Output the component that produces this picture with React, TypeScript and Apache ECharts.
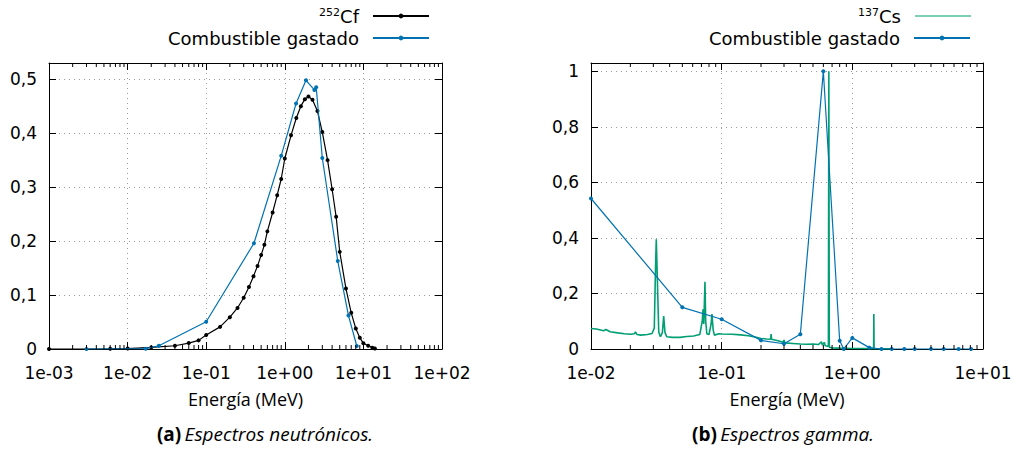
import { useEffect, useRef } from 'react';
import * as echarts from 'echarts';

// ---- Data ----
// (a) Neutron spectra: [energy MeV, normalised value]
const cf252: number[][] = [
  [0.001, 0.0], [0.006, 0.0004], [0.01, 0.0008], [0.02, 0.003], [0.04, 0.006],
  [0.06, 0.011], [0.08, 0.016], [0.1, 0.026], [0.15, 0.041], [0.2, 0.059],
  [0.25, 0.076], [0.3, 0.095], [0.35, 0.115], [0.4, 0.135], [0.45, 0.154],
  [0.5, 0.174], [0.55, 0.193], [0.6, 0.218], [0.7, 0.253], [0.8, 0.285],
  [0.9, 0.315], [1.0, 0.353], [1.2, 0.396], [1.4, 0.428], [1.6, 0.45],
  [1.8, 0.463], [2.0, 0.468], [2.25, 0.462], [2.6, 0.441], [3.0, 0.402],
  [3.5, 0.35], [4.0, 0.296], [4.5, 0.245], [5.0, 0.18], [6.0, 0.112],
  [7.0, 0.067], [8.0, 0.038], [9.0, 0.021], [10, 0.0105], [11.5, 0.006],
  [13, 0.0025], [14, 0.001],
];
const fuelNeutron: number[][] = [
  [0.003, 0.0], [0.017, 0.0006], [0.025, 0.006], [0.1, 0.0506], [0.405, 0.196],
  [0.9, 0.358], [1.39, 0.455], [1.86, 0.498], [2.38, 0.48], [2.51, 0.485],
  [3.0, 0.354], [4.72, 0.163], [6.46, 0.062], [8.24, 0.0056],
];
// (b) Gamma spectra
const cs137: number[][] = [
  [0.01, 0.074], [0.011, 0.072], [0.0125, 0.066], [0.013, 0.07], [0.014, 0.062],
  [0.016, 0.058], [0.018, 0.055], [0.02, 0.053], [0.0215, 0.055], [0.0219, 0.062],
  [0.0225, 0.052], [0.024, 0.05], [0.027, 0.052], [0.0293, 0.056], [0.0305, 0.075],
  [0.0312, 0.3], [0.0316, 0.395], [0.0322, 0.25], [0.033, 0.06], [0.034, 0.044],
  [0.0352, 0.06], [0.036, 0.119], [0.0368, 0.06], [0.038, 0.044], [0.042, 0.042],
  [0.048, 0.042], [0.054, 0.045], [0.061, 0.047], [0.068, 0.052], [0.071, 0.1],
  [0.072, 0.143], [0.073, 0.09], [0.0745, 0.242], [0.0755, 0.1], [0.077, 0.055],
  [0.08, 0.052], [0.083, 0.09], [0.0843, 0.126], [0.086, 0.07], [0.088, 0.05],
  [0.095, 0.055], [0.1, 0.054], [0.12, 0.053], [0.14, 0.051], [0.16, 0.048],
  [0.18, 0.043], [0.2, 0.038], [0.22, 0.036], [0.237, 0.035], [0.239, 0.054],
  [0.241, 0.035], [0.27, 0.03], [0.295, 0.024], [0.3, 0.032], [0.305, 0.022],
  [0.35, 0.02], [0.4, 0.018], [0.45, 0.017], [0.5, 0.018], [0.55, 0.016],
  [0.58, 0.026], [0.59, 0.014], [0.61, 0.024], [0.62, 0.012], [0.65, 0.01],
  [0.656, 0.014], [0.661, 1.0], [0.666, 0.006], [0.7, 0.004], [0.8, 0.003],
  [0.9, 0.0025], [1.0, 0.002], [1.2, 0.002], [1.4, 0.0015], [1.455, 0.002],
  [1.461, 0.126], [1.467, 0.001], [1.7, 0.001], [2.0, 0.0005],
];
const fuelGamma: number[][] = [
  [0.01, 0.542], [0.05, 0.15], [0.1, 0.107], [0.2, 0.031], [0.3, 0.019],
  [0.4, 0.053], [0.6, 1.0], [0.8, 0.03], [0.86, 0.0], [1.0, 0.04],
  [1.35, 0.005], [1.67, 0.0], [2.0, 0.0], [2.5, 0.0], [3.0, 0.0],
  [4.0, 0.0], [5.0, 0.0], [6.5, 0.0], [8.1, 0.0],
];

const seriesNames = ['252Cf', 'Combustible gastado', '137Cs'];
const xTitle = 'Energía (MeV)';
const captionA = ['(a)', 'Espectros neutrónicos.'];
const captionB = ['(b)', 'Espectros gamma.'];

// log-axis minor tick positions (2..9 within each decade)
function minorTicks(fromExp: number, toExp: number): number[][] {
  const out: number[][] = [];
  for (let e = fromExp; e < toExp; e++) {
    for (let m = 2; m <= 9; m++) out.push([m * Math.pow(10, e), 0]);
  }
  return out;
}

const BLUE = '#0072b2';
const GREEN = '#009e73';
const FONT = 'DejaVu Sans';
const CAPFONT = 'Open Sans';

const fmtExp = (v: number) => {
  const e = Math.round(Math.log10(v));
  return '1e' + (e < 0 ? '-' : '+') + String(Math.abs(e)).padStart(2, '0');
};
const fmtDec = (v: number) => String(Math.round(v * 10) / 10).replace('.', ',');

export default function App() {
  const ref = useRef<HTMLDivElement>(null);
  useEffect(() => {
    if (!ref.current) return;
    const chart = echarts.init(ref.current, undefined, { renderer: 'svg' });

    const grids = [
      { left: 49, top: 63, width: 393, height: 286 },
      { left: 591, top: 63, width: 392, height: 286 },
    ];
    const xr = [
      { min: 0.001, max: 100 },
      { min: 0.01, max: 10 },
    ];
    const yr = [
      { min: 0, max: 0.53, interval: 0.1 },
      { min: 0, max: 1.03, interval: 0.2 },
    ];
    const axisLine = { show: true, onZero: false, lineStyle: { color: '#000', width: 1 } };
    const tick = { show: true, inside: true, length: 7, lineStyle: { color: '#000', width: 1 } };
    const split = { show: true, lineStyle: { color: '#9a9a9a', width: 1, type: [1, 4] as any } };

    const xAxis: any[] = [];
    const yAxis: any[] = [];
    [0, 1].forEach((g) => {
      xAxis.push({
        type: 'log', gridIndex: g, position: 'bottom', logBase: 10, ...xr[g],
        axisLine, axisTick: tick, splitLine: split, minorTick: { show: false },
        axisLabel: { formatter: fmtExp, color: '#000', fontFamily: FONT, fontSize: 17, margin: 15,
          showMinLabel: true, showMaxLabel: true },
        name: xTitle, nameLocation: 'middle', nameGap: 41,
        nameTextStyle: { color: '#000', fontFamily: CAPFONT, fontSize: 18 },
      });
      xAxis.push({
        type: 'log', gridIndex: g, position: 'top', logBase: 10, ...xr[g],
        axisLine, axisTick: tick, splitLine: { show: false }, axisLabel: { show: false },
      });
      yAxis.push({
        type: 'value', gridIndex: g, position: 'left', ...yr[g],
        axisLine, axisTick: tick, splitLine: split,
        axisLabel: { formatter: fmtDec, color: '#000', fontFamily: FONT, fontSize: 17, margin: 12,
          showMaxLabel: false },
      });
      yAxis.push({
        type: 'value', gridIndex: g, position: 'right', ...yr[g],
        axisLine, axisTick: tick, splitLine: { show: false }, axisLabel: { show: false },
      });
    });

    const minorSeries = (g: number, data: number[][]) => ({
      type: 'custom', xAxisIndex: g * 2, yAxisIndex: g * 2, silent: true, clip: false,
      z: 5, data,
      renderItem: (_p: any, api: any) => {
        const x = api.value(0);
        const b = api.coord([x, yr[g].min]);
        const t = api.coord([x, yr[g].max]);
        return {
          type: 'group',
          children: [
            { type: 'line', shape: { x1: b[0], y1: b[1], x2: b[0], y2: b[1] - 4 }, style: { stroke: '#000', lineWidth: 1 } },
            { type: 'line', shape: { x1: t[0], y1: t[1], x2: t[0], y2: t[1] + 4 }, style: { stroke: '#000', lineWidth: 1 } },
          ],
        };
      },
    });

    const legendBase = {
      orient: 'vertical', align: 'right', padding: 0, itemWidth: 56, itemHeight: 6,
      selectedMode: false,
      textStyle: { color: '#000', fontFamily: FONT, fontSize: 18, padding: [0, 9, 0, 0],
        rich: {
          sup: { fontSize: 11, fontFamily: FONT, verticalAlign: 'top', color: '#000' },
          t: { fontSize: 18, fontFamily: FONT, color: '#000' },
        } },
      formatter: (n: string) => {
        const m = n.match(/^(\d+)(\D+)$/);
        return m ? '{sup|' + m[1] + '}{t|' + m[2] + '}' : n;
      },
    };

    const capRich = {
      b: { fontFamily: CAPFONT, fontSize: 19, fontWeight: 'bold', fill: '#000', color: '#000' },
      i: { fontFamily: CAPFONT, fontSize: 19, fontStyle: 'italic', fill: '#000', color: '#000' },
    };

    chart.setOption({
      animation: false,
      backgroundColor: '#fff',
      textStyle: { fontFamily: FONT },
      grid: grids,
      xAxis, yAxis,
      legend: [
        { ...legendBase, data: [seriesNames[0]], right: 589, top: 7 },
        { ...legendBase, data: [seriesNames[1]], right: 589, top: 29 },
        { ...legendBase, data: [seriesNames[2]], right: 48, top: 7, icon: 'rect', itemHeight: 1.2 },
        { ...legendBase, data: [seriesNames[1]], right: 48, top: 29 },
      ],
      graphic: [
        { type: 'text', x: 265, y: 434, style: { text: '{b|' + captionA[0] + '} {i|' + captionA[1] + '}', rich: capRich, align: 'center', verticalAlign: 'middle' } },
        { type: 'text', x: 783, y: 434, style: { text: '{b|' + captionB[0] + '} {i|' + captionB[1] + '}', rich: capRich, align: 'center', verticalAlign: 'middle' } },
      ],
      series: [
        minorSeries(0, minorTicks(-3, 2)),
        minorSeries(1, minorTicks(-2, 1)),
        {
          name: seriesNames[0], type: 'line', xAxisIndex: 0, yAxisIndex: 0, data: cf252,
          symbol: 'circle', symbolSize: 4, showSymbol: true, z: 3,
          lineStyle: { color: '#000', width: 1.2 }, itemStyle: { color: '#000' },
        },
        {
          name: seriesNames[1], type: 'line', xAxisIndex: 0, yAxisIndex: 0, data: fuelNeutron,
          symbol: 'circle', symbolSize: 4, showSymbol: true, z: 4,
          lineStyle: { color: BLUE, width: 1.2 }, itemStyle: { color: BLUE },
        },
        {
          name: seriesNames[2], type: 'line', xAxisIndex: 2, yAxisIndex: 2, data: cs137,
          symbol: 'none', showSymbol: false, z: 3,
          lineStyle: { color: GREEN, width: 1.6 }, itemStyle: { color: GREEN },
        },
        {
          name: seriesNames[1], type: 'line', xAxisIndex: 2, yAxisIndex: 2, data: fuelGamma,
          symbol: 'circle', symbolSize: 4, showSymbol: true, z: 4,
          lineStyle: { color: BLUE, width: 1.2 }, itemStyle: { color: BLUE },
        },
      ],
    });
    return () => chart.dispose();
  }, []);
  return <div ref={ref} style={{ position: 'fixed', left: 0, top: 0, width: 1019, height: 468 }} />;
}
